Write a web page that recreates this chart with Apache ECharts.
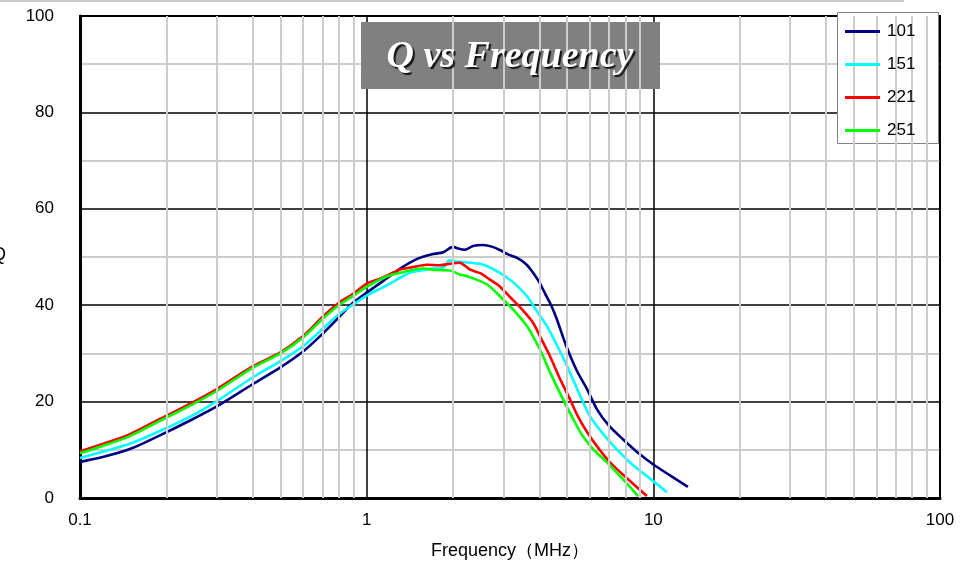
<!DOCTYPE html>
<html>
<head>
<meta charset="utf-8">
<script src="https://cdn.jsdelivr.net/npm/echarts@6/dist/echarts.min.js"></script>
<style>html,body{margin:0;padding:0;background:#fff;}#c{width:968px;height:565px;}</style>
</head>
<body>
<div id="c"></div>
<script>
const seriesNames = ['101', '151', '221', '251'];
const xTickLabels = ['0.1', '1', '10', '100'];
const yTicks = [0, 20, 40, 60, 80, 100];
const minorFreqs = [0.2,0.3,0.4,0.5,0.6,0.7,0.8,0.9,2,3,4,5,6,7,8,9,20,30,40,50,60,70,80,90];

const f101 = [0.1,0.12,0.15,0.19,0.25,0.3,0.4,0.5,0.6,0.7,0.8,0.9,1.0,1.14,1.31,1.5,1.7,1.85,2.0,2.1,2.2,2.35,2.55,2.75,2.95,3.1,3.35,3.6,3.8,4.0,4.2,4.4,4.6,4.95,5.4,5.87,6.36,7.0,7.83,9.0,9.97,11.5,13.2];
const q101 = [7.5,8.5,10.2,13.0,16.5,19.0,23.6,27.1,30.4,34.0,37.5,40.6,42.6,45.0,47.6,49.6,50.6,51.0,52.1,51.7,51.5,52.3,52.5,52.1,51.3,50.6,49.8,48.5,46.8,44.8,42.3,40.0,37.2,31.8,26.5,22.6,18.4,15.0,12.2,9.0,7.0,4.6,2.3];

const f151 = [0.1,0.12,0.15,0.19,0.25,0.3,0.4,0.5,0.6,0.7,0.8,0.9,1.0,1.14,1.25,1.42,1.55,1.7,1.85,1.95,2.1,2.3,2.55,2.8,3.09,3.35,3.63,3.9,4.26,4.6,5.0,5.5,6.01,6.7,7.46,8.5,10.0,11.15];
const q151 = [8.3,9.6,11.3,13.9,17.3,20.1,25.0,28.4,31.5,35.0,38.1,40.2,42.0,43.7,45.0,46.8,47.2,47.6,47.8,49.3,49.0,48.8,48.4,47.3,45.7,44.0,41.8,39.0,35.6,31.8,27.4,21.8,17.0,13.2,10.1,6.8,3.5,1.2];

const f221 = [0.1,0.12,0.15,0.19,0.25,0.3,0.4,0.5,0.6,0.7,0.8,0.9,1.0,1.09,1.2,1.31,1.45,1.62,1.8,1.95,2.11,2.2,2.29,2.5,2.69,2.9,3.16,3.45,3.8,4.05,4.36,4.7,5.12,5.45,5.87,6.4,7.06,8.2,9.5];
const q221 = [9.7,11.2,13.3,16.4,20.0,22.6,27.3,30.2,33.6,37.5,40.5,42.4,44.5,45.3,46.4,47.4,47.9,48.4,48.3,48.6,48.8,48.2,47.4,46.6,45.3,44.0,41.7,39.4,36.4,33.2,29.4,25.0,20.5,17.0,13.7,10.5,7.4,3.8,0.4];

const f251 = [0.1,0.12,0.15,0.19,0.25,0.3,0.4,0.5,0.6,0.7,0.8,0.9,1.0,1.18,1.35,1.57,1.75,1.95,2.1,2.24,2.63,2.99,3.3,3.63,4.02,4.4,4.84,5.25,5.68,6.2,6.89,7.8,8.84];
const q251 = [9.3,10.8,12.9,16.0,19.6,22.2,27.0,30.0,33.3,37.1,40.0,42.0,43.8,46.0,46.9,47.6,47.3,47.2,46.4,46.0,44.3,41.2,38.6,35.6,30.8,25.6,20.5,16.4,12.8,10.0,7.4,4.0,0.4];

const colors = ['#000080', '#00FFFF', '#FF0000', '#00FF00'];
const freqs = [f101, f151, f221, f251];
const qs = [q101, q151, q221, q251];

const font = '"Liberation Sans", Arial, sans-serif';

const dataSeries = seriesNames.map((name, i) => ({
  name: name,
  type: 'line',
  data: freqs[i].map((f, j) => [f, qs[i][j]]),
  showSymbol: false,
  symbol: 'none',
  smooth: 0.3,
  lineStyle: { color: colors[i], width: 2.6 },
  itemStyle: { color: colors[i] },
  z: 3,
  silent: true
}));

const chart = echarts.init(document.getElementById('c'), null, { renderer: 'canvas' });
chart.setOption({
  animation: false,
  backgroundColor: '#fff',
  grid: { left: 80, right: 28, top: 16, bottom: 66, show: true, borderColor: '#000', borderWidth: 2, backgroundColor: 'transparent' },
  xAxis: {
    type: 'log', logBase: 10, min: 0.1, max: 100,
    name: 'Frequency（MHz）', nameLocation: 'middle', nameGap: 44,
    nameTextStyle: { fontSize: 18, color: '#000', fontFamily: font },
    axisLine: { show: true, lineStyle: { color: '#000', width: 3 } },
    axisTick: { show: false },
    axisLabel: { color: '#000', fontSize: 17, fontFamily: font, margin: 14,
      formatter: v => { const i = Math.round(Math.log10(v)) + 1; return xTickLabels[i] !== undefined ? xTickLabels[i] : ''; } },
    splitLine: { show: true, lineStyle: { color: '#000', width: 1.5 } },
    minorTick: { show: false },
    minorSplitLine: { show: false }
  },
  yAxis: {
    type: 'value', min: yTicks[0], max: yTicks[yTicks.length - 1], interval: 20,
    axisLine: { show: true, lineStyle: { color: '#000', width: 3 } },
    axisTick: { show: false },
    axisLabel: { color: '#000', fontSize: 17, fontFamily: font, margin: 26 },
    splitLine: { show: true, lineStyle: { color: '#000', width: 1.5 } },
    minorTick: { show: false, splitNumber: 2 },
    minorSplitLine: { show: true, lineStyle: { color: '#cccccc', width: 2 } }
  },
  legend: {
    data: seriesNames,
    orient: 'vertical',
    left: 845, top: 23,
    padding: 0,
    itemWidth: 35, itemHeight: 14, itemGap: 16,
    textStyle: { fontSize: 17, color: '#000', fontFamily: font, padding: [0, 0, 0, 2] },
    icon: 'path://M0,0 L35,0 L35,3 L0,3 Z',
    itemStyle: { borderWidth: 0 },
    z: 6,
    selectedMode: false
  },
  graphic: [
    { type: 'line', shape: { x1: 0, y1: 1, x2: 904, y2: 1 }, style: { stroke: '#c8c8c8', lineWidth: 2 }, z: 5, silent: true },
    { type: 'rect', shape: { x: 361, y: 22, width: 299, height: 67 }, style: { fill: '#808080' }, z: 5, silent: true },
    { type: 'text', x: 510, y: 57, z: 6, silent: true,
      style: { text: 'Q vs Frequency', fill: '#ffffff', font: 'italic bold 38px "Liberation Serif", "Times New Roman", serif',
        textAlign: 'center', textVerticalAlign: 'middle', align: 'center', verticalAlign: 'middle',
        textShadowColor: 'rgba(0,0,0,0.85)', textShadowOffsetX: 2, textShadowOffsetY: 2, textShadowBlur: 1 } },
    { type: 'rect', shape: { x: 837.5, y: 12.5, width: 101, height: 131 }, style: { fill: '#ffffff', stroke: '#808080', lineWidth: 1 }, z: 5, silent: true },
    { type: 'text', x: -8, y: 255, z: 6, silent: true,
      style: { text: 'Q', fill: '#000', font: '18px "Liberation Sans", Arial, sans-serif', textVerticalAlign: 'middle', verticalAlign: 'middle' } }
  ],
  series: [
    {
      name: 'minorGrid', type: 'line', data: [], z: 1, silent: true,
      markLine: {
        silent: true, symbol: ['none', 'none'], label: { show: false }, animation: false,
        lineStyle: { color: '#cccccc', width: 2, type: 'solid' },
        data: minorFreqs.map(f => ({ xAxis: f }))
      }
    }
  ].concat(dataSeries)
});
</script>
</body>
</html>
